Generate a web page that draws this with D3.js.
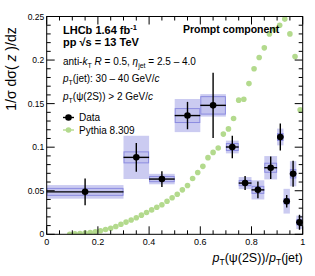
<!DOCTYPE html>
<html>
<head>
<meta charset="utf-8">
<script src="https://cdn.jsdelivr.net/npm/d3@7"></script>
<style>
  body { margin: 0; background: #fff; }
  text { font-family: "Liberation Sans", Arial, Helvetica, sans-serif; fill: #000; }
</style>
</head>
<body>
<div id="chart"></div>
<script>
// LHCb data points (bins in z = pT(psi(2S))/pT(jet))
var binLo = [0.0, 0.3, 0.4, 0.5, 0.6, 0.7, 0.75, 0.8, 0.85, 0.9, 0.925, 0.95, 0.975];
var binHi = [0.3, 0.4, 0.5, 0.6, 0.7, 0.75, 0.8, 0.85, 0.9, 0.925, 0.95, 0.975, 1.0];
var dataY = [0.0487, 0.0883, 0.0634, 0.1363, 0.148, 0.1002, 0.0588, 0.051, 0.0764, 0.1117, 0.038, 0.0695, 0.0138];
var statErr = [0.0153, 0.0164, 0.009, 0.0157, 0.0374, 0.0129, 0.008, 0.0096, 0.0129, 0.0155, 0.0071, 0.0148, 0.0086];
var systOuter = [0.0078, 0.0248, 0.006, 0.019, 0.0129, 0.0073, 0.0069, 0.011, 0.0134, 0.0096, 0.0142, 0.0144, 0.0077];
var systInner = [0.004, 0.0063, 0.003, 0.008, 0.010, 0.004, 0.003, 0.004, 0.0052, 0.004, 0.003, 0.0048, 0.003];

// Pythia 8.309 prediction
var pythiaX = [0.09, 0.11, 0.13, 0.15, 0.17, 0.19, 0.21, 0.23, 0.25, 0.27, 0.29, 0.31, 0.33, 0.35, 0.37, 0.39,
               0.41, 0.43, 0.45, 0.47, 0.49, 0.51, 0.53, 0.55, 0.57, 0.59, 0.61, 0.63, 0.65, 0.67, 0.69,
               0.71, 0.73, 0.75, 0.77, 0.79, 0.81, 0.83, 0.85, 0.87, 0.89, 0.91, 0.93, 0.95, 0.97, 0.99];
var pythiaY = [0.0, 0.0005, 0.001, 0.0015, 0.002, 0.003, 0.004, 0.0055, 0.007, 0.009, 0.0115, 0.014, 0.0165, 0.019, 0.022, 0.025,
               0.028, 0.031, 0.034, 0.038, 0.042, 0.046, 0.051, 0.056, 0.064, 0.071, 0.078, 0.088, 0.094, 0.099, 0.115,
               0.121, 0.133, 0.154, 0.155, 0.173, 0.19, 0.203, 0.214, 0.23, 0.235, 0.24, 0.247, 0.23, 0.204, 0.143];

var xTicks = [0, 0.2, 0.4, 0.6, 0.8, 1];
var xTickLabels = ["0", "0.2", "0.4", "0.6", "0.8", "1"];
var yTicks = [0, 0.05, 0.1, 0.15, 0.2, 0.25];
var yTickLabels = ["0", "0.05", "0.1", "0.15", "0.2", "0.25"];

var width = 315, height = 276;
var plotL = 46.7, plotR = 302.7, plotT = 16.5, plotB = 234.3;
var green = "#b3da8d";

var svg = d3.select("#chart").append("svg")
  .attr("width", width).attr("height", height);

var x = d3.scaleLinear().domain([0, 1]).range([plotL, plotR]);
var y = d3.scaleLinear().domain([0, 0.25]).range([plotB, plotT]);

svg.append("clipPath").attr("id", "clip").append("rect")
  .attr("x", plotL).attr("y", plotT - 3).attr("width", plotR - plotL).attr("height", plotB - plotT + 3);
var plot = svg.append("g").attr("clip-path", "url(#clip)");

var idx = d3.range(dataY.length);

// outer systematic boxes
plot.selectAll("rect.outer").data(idx).enter().append("rect")
  .attr("x", function(i){ return x(binLo[i]); })
  .attr("width", function(i){ return x(binHi[i]) - x(binLo[i]); })
  .attr("y", function(i){ return y(dataY[i] + systOuter[i]); })
  .attr("height", function(i){ return y(dataY[i] - systOuter[i]) - y(dataY[i] + systOuter[i]); })
  .style("fill", "#cbcbf1");

// inner boxes
plot.selectAll("rect.inner").data(idx).enter().append("rect")
  .attr("x", function(i){ return x(binLo[i]) + 0.5; })
  .attr("width", function(i){ return x(binHi[i]) - x(binLo[i]) - 1; })
  .attr("y", function(i){ return y(dataY[i] + systInner[i]); })
  .attr("height", function(i){ return y(dataY[i] - systInner[i]) - y(dataY[i] + systInner[i]); })
  .style("fill", "#c3c3ee")
  .style("stroke", "#8c8ce0")
  .style("stroke-width", 1);

// pythia
plot.selectAll("circle.py").data(pythiaX).enter().append("circle")
  .attr("cx", function(d){ return x(d); })
  .attr("cy", function(d, i){ return y(pythiaY[i]); })
  .attr("r", 2.8)
  .style("fill", green);

// data error bars
var pts = svg.append("g");
pts.selectAll("line.v").data(idx).enter().append("line")
  .attr("x1", function(i){ return x((binLo[i] + binHi[i]) / 2); })
  .attr("x2", function(i){ return x((binLo[i] + binHi[i]) / 2); })
  .attr("y1", function(i){ return y(dataY[i] - statErr[i]); })
  .attr("y2", function(i){ return y(dataY[i] + statErr[i]); })
  .style("stroke", "#000").style("stroke-width", 1.4);
pts.selectAll("line.h").data(idx).enter().append("line")
  .attr("x1", function(i){ return x(binLo[i]); })
  .attr("x2", function(i){ return x(binHi[i]); })
  .attr("y1", function(i){ return y(dataY[i]); })
  .attr("y2", function(i){ return y(dataY[i]); })
  .style("stroke", "#000").style("stroke-width", 1.4);
pts.selectAll("circle").data(idx).enter().append("circle")
  .attr("cx", function(i){ return x((binLo[i] + binHi[i]) / 2); })
  .attr("cy", function(i){ return y(dataY[i]); })
  .attr("r", 3.3)
  .style("fill", "#000");

// frame
svg.append("rect")
  .attr("x", plotL).attr("y", plotT).attr("width", plotR - plotL).attr("height", plotB - plotT)
  .style("fill", "none").style("stroke", "#000").style("stroke-width", 1);

// ticks (ROOT style, inside, mirrored)
var ticks = svg.append("g").style("stroke", "#000").style("stroke-width", 1);
var xMinor = d3.range(0, 1.0001, 0.05);
xMinor.forEach(function(v){
  var major = Math.abs(v / 0.2 - Math.round(v / 0.2)) < 1e-6;
  var len = major ? 8 : 4;
  ticks.append("line").attr("x1", x(v)).attr("x2", x(v)).attr("y1", plotB).attr("y2", plotB - len);
  ticks.append("line").attr("x1", x(v)).attr("x2", x(v)).attr("y1", plotT).attr("y2", plotT + len);
});
var yMinor = d3.range(0, 0.25001, 0.01);
yMinor.forEach(function(v){
  var major = Math.abs(v / 0.05 - Math.round(v / 0.05)) < 1e-6;
  var len = major ? 8 : 4;
  ticks.append("line").attr("y1", y(v)).attr("y2", y(v)).attr("x1", plotL).attr("x2", plotL + len);
  ticks.append("line").attr("y1", y(v)).attr("y2", y(v)).attr("x1", plotR).attr("x2", plotR - len);
});

// tick labels
svg.selectAll("text.xt").data(xTicks).enter().append("text")
  .attr("x", function(d){ return x(d); })
  .attr("y", plotB + 10.5)
  .attr("text-anchor", "middle")
  .style("font-size", "9px")
  .text(function(d, i){ return xTickLabels[i]; });
svg.selectAll("text.yt").data(yTicks).enter().append("text")
  .attr("x", plotL - 2.5)
  .attr("y", function(d){ return y(d) + 3; })
  .attr("text-anchor", "end")
  .style("font-size", "8.5px")
  .text(function(d, i){ return yTickLabels[i]; });

// axis titles
var xt = svg.append("text").attr("x", plotR).attr("y", 262).attr("text-anchor", "end").style("font-size", "12.5px");
xt.append("tspan").style("font-style", "italic").text("p");
xt.append("tspan").attr("dy", 3).style("font-size", "8.5px").text("T");
xt.append("tspan").attr("dy", -3).text("(\u03c8(2S))/");
xt.append("tspan").style("font-style", "italic").text("p");
xt.append("tspan").attr("dy", 3).style("font-size", "8.5px").text("T");
xt.append("tspan").attr("dy", -3).text("(jet)");

var yt = svg.append("text").attr("transform", "translate(16,69) rotate(-90)")
  .attr("text-anchor", "middle").style("font-size", "14px");
yt.append("tspan").text("1/\u03c3 d\u03c3( ");
yt.append("tspan").style("font-style", "italic").text("z");
yt.append("tspan").text(" )/dz");

// labels
var t1 = svg.append("text").attr("x", 63).attr("y", 34).style("font-size", "11px").style("font-weight", "bold");
t1.append("tspan").text("LHCb 1.64 fb");
t1.append("tspan").attr("dy", -4).style("font-size", "7.5px").text("-1");
var t2 = svg.append("text").attr("x", 63).attr("y", 46).style("font-size", "11px").style("font-weight", "bold");
t2.append("tspan").text("pp   \u221a");
t2.append("tspan").text("s = 13 TeV");

svg.append("text").attr("x", 183).attr("y", 33).style("font-size", "10.5px").style("font-weight", "bold")
  .text("Prompt component");

var t3 = svg.append("text").attr("x", 63).attr("y", 65).style("font-size", "10px");
t3.append("tspan").text("anti-");
t3.append("tspan").style("font-style", "italic").text("k");
t3.append("tspan").attr("dy", 2.5).style("font-size", "7px").text("T");
t3.append("tspan").attr("dy", -2.5).text(" ");
t3.append("tspan").style("font-style", "italic").text("R");
t3.append("tspan").text(" = 0.5, ");
t3.append("tspan").style("font-style", "italic").text("\u03b7");
t3.append("tspan").attr("dy", 2.5).style("font-size", "7px").text("jet");
t3.append("tspan").attr("dy", -2.5).text(" = 2.5 \u2013 4.0");

var t4 = svg.append("text").attr("x", 63).attr("y", 82).style("font-size", "10px");
t4.append("tspan").style("font-style", "italic").text("p");
t4.append("tspan").attr("dy", 2.5).style("font-size", "7px").text("T");
t4.append("tspan").attr("dy", -2.5).text("(jet): 30 \u2013 40 GeV/");
t4.append("tspan").style("font-style", "italic").text("c");

var t5 = svg.append("text").attr("x", 63).attr("y", 100).style("font-size", "10px");
t5.append("tspan").style("font-style", "italic").text("p");
t5.append("tspan").attr("dy", 2.5).style("font-size", "7px").text("T");
t5.append("tspan").attr("dy", -2.5).text("(\u03c8(2S)) > 2 GeV/");
t5.append("tspan").style("font-style", "italic").text("c");

// legend
var legY = [117.5, 130];
svg.append("line").attr("x1", 63).attr("x2", 74).attr("y1", legY[0]).attr("y2", legY[0])
  .style("stroke", "#000").style("stroke-width", 1.4);
svg.append("circle").attr("cx", 68.5).attr("cy", legY[0]).attr("r", 3.3).style("fill", "#000");
svg.append("line").attr("x1", 63).attr("x2", 74).attr("y1", legY[1]).attr("y2", legY[1])
  .style("stroke", green).style("stroke-width", 1.4);
svg.append("circle").attr("cx", 68.5).attr("cy", legY[1]).attr("r", 2.8).style("fill", green);
svg.append("text").attr("x", 79).attr("y", legY[0] + 3.5).style("font-size", "10px").text("Data");
svg.append("text").attr("x", 79).attr("y", legY[1] + 3.5).style("font-size", "10px").text("Pythia 8.309");
</script>
</body>
</html>
